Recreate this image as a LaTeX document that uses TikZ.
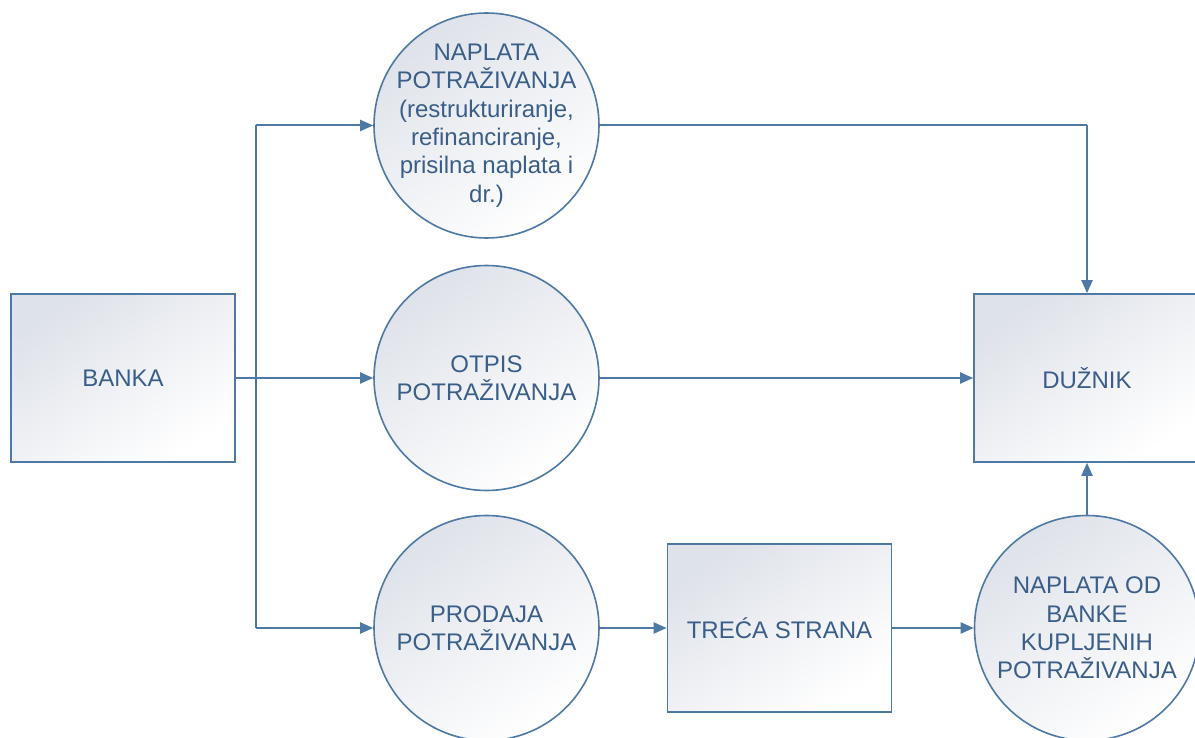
\documentclass[tikz,border=0pt]{standalone}
\usepackage{fontspec}
\setmainfont{Liberation Sans}
\usetikzlibrary{arrows.meta}
\definecolor{edgeblue}{RGB}{78,121,165}
\definecolor{textblue}{RGB}{58,94,136}
\definecolor{shadegray}{RGB}{222,226,233}
\tikzset{
  shapebase/.style={draw=edgeblue, line width=1.6pt, text=textblue, align=center,
    font=\fontsize{24}{28.3}\selectfont, shading=axis, top color=shadegray, middle color=white, bottom color=white, shading angle=35, inner sep=0pt},
  boxnode/.style={shapebase, rectangle, minimum width=224, minimum height=168},
  circnode/.style={shapebase, circle, minimum size=225},
  circtext/.style={text=textblue, align=center, font=\fontsize{24}{28.3}\selectfont, inner sep=0pt},
  conn/.style={draw=edgeblue, line width=2pt, -{Triangle[length=13pt,width=11pt]}},
  plainconn/.style={draw=edgeblue, line width=2pt}
}
\begin{document}
\begin{tikzpicture}[x=1pt,y=-1pt]
\useasboundingbox (0,0) rectangle (1195,738);
\node[boxnode] (banka) at (123,378) {BANKA};
\node[circnode] (naplata) at (486.5,125.5) {};
\node[circtext] (naplatatxt) at (naplata) {NAPLATA\\POTRAŽIVANJA\\(restrukturiranje,\\refinanciranje,\\prisilna naplata i\\dr.)};
\node[circnode] (otpis) at (486.5,378) {};
\node[circtext] (otpistxt) at (otpis) {OTPIS\\POTRAŽIVANJA};
\node[circnode] (prodaja) at (486.5,628) {};
\node[circtext] (prodajatxt) at (prodaja) {PRODAJA\\POTRAŽIVANJA};
\node[boxnode] (treca) at (779.5,628) {TREĆA STRANA};
\node[boxnode, minimum width=226] (duznik) at (1087,378) {DUŽNIK};
\node[circnode] (napod) at (1087,628) {};
\node[circtext] (napodtxt) at (napod) {NAPLATA OD\\BANKE\\KUPLJENIH\\POTRAŽIVANJA};
\coordinate (topsplit) at (256,125.5);
\coordinate (botsplit) at (256,628);
\coordinate (corner) at (1087,125.5);
\draw[conn] (banka.east) -- (otpis.west);
\draw[plainconn] (topsplit) -- (botsplit);
\draw[conn] (topsplit) -- (naplata.west);
\draw[conn] (botsplit) -- (prodaja.west);
\draw[plainconn] (naplata.east) -- (corner);
\draw[conn] (corner) -- (duznik.north);
\draw[conn] (otpis.east) -- (duznik.west);
\draw[conn] (prodaja.east) -- (treca.west);
\draw[conn] (treca.east) -- (napod.west);
\draw[conn] (napod.north) -- (duznik.south);
\end{tikzpicture}
\end{document}
